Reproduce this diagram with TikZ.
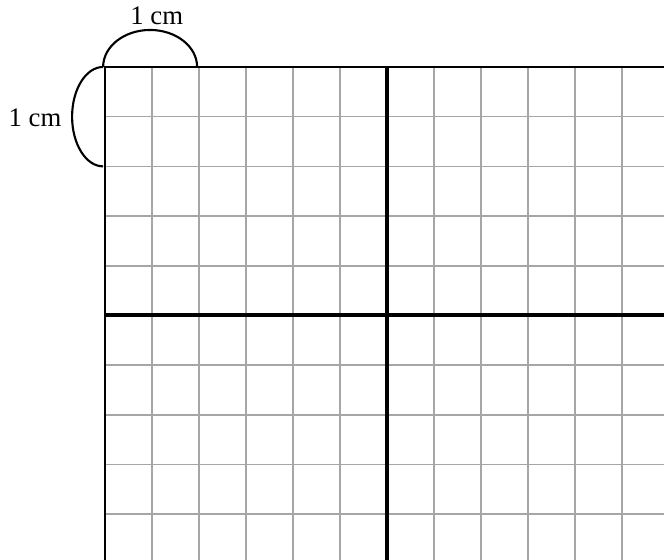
\documentclass[tikz,border=0pt]{standalone}
\usepackage{fontspec}
\setmainfont{Liberation Serif}
\usetikzlibrary{calc}

\begin{document}
\begin{tikzpicture}[x=0.47cm,y=-0.497cm,
    gridline/.style={draw=black!35,line width=0.45pt},
    axisline/.style={draw=black,line width=1.15pt},
    edgeline/.style={draw=black,line width=0.6pt},
    lbl/.style={font=\fontsize{7.6}{9}\selectfont,inner sep=0pt}]
                \useasboundingbox (-2.234,-1.348) rectangle (11.894,9.920);
                \coordinate(O)at(0,0);
                \coordinate(R)at(11.894,0);
                \coordinate(D)at(0,9.920);
                \foreach \i in {1,...,11}
                    \draw[gridline](\i,0)--(\i,9.920);
                \foreach \j in {1,...,9}
                    \draw[gridline](0,\j)--(11.894,\j);
                \draw[axisline](6,0)--(6,9.920);
                \draw[axisline](0,5)--(11.894,5);
                \draw[edgeline](R)--(O)--(D);
                \draw[line width=0.6pt](-0.04,0) arc[start angle=180,end angle=360,x radius=1,y radius=0.745];
                \draw[line width=0.6pt](-0.04,0) arc[start angle=270,end angle=90,x radius=0.66,y radius=1];
                \node[lbl](topcm)at(1.10,-1.03){1 cm};
                \node[lbl](leftcm)at(-1.49,1.02){1 cm};
            \end{tikzpicture}
\end{document}
